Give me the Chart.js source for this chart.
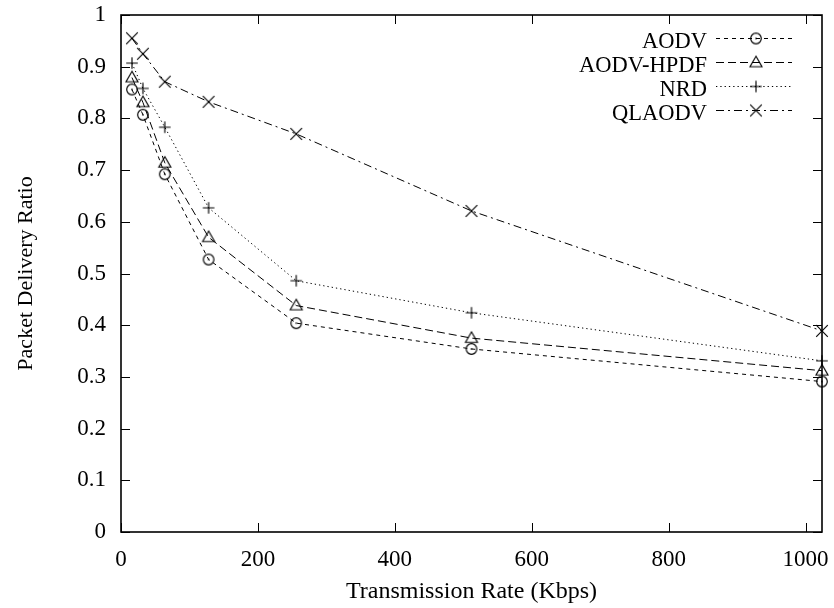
<!DOCTYPE html>
<html>
<head>
<meta charset="utf-8">
<title>Packet Delivery Ratio vs Transmission Rate</title>
<script src="https://cdn.jsdelivr.net/npm/chart.js@4/dist/chart.umd.min.js"></script>
<style>
  html, body { margin: 0; padding: 0; background: #fff; }
  #wrap { width: 834px; height: 608px; }
</style>
</head>
<body>
<div id="wrap"><canvas id="pdr" width="834" height="608"></canvas></div>
<script>
// Transmission rates (Kbps)
const rates = [16, 32, 64, 128, 256, 512, 1024];

// Packet delivery ratio per protocol
const aodv     = [0.856, 0.807, 0.692, 0.527, 0.404, 0.354, 0.291];
const aodvHpdf = [0.879, 0.831, 0.714, 0.570, 0.438, 0.375, 0.312];
const nrd      = [0.907, 0.858, 0.783, 0.627, 0.486, 0.424, 0.331];
const qlaodv   = [0.955, 0.925, 0.871, 0.832, 0.770, 0.621, 0.389];

// Axis tick values
const xTicks = [0, 200, 400, 600, 800, 1000];
const yTicks = [0, 0.1, 0.2, 0.3, 0.4, 0.5, 0.6, 0.7, 0.8, 0.9, 1];

const FONT = 'Liberation Serif, "Times New Roman", serif';

// Small canvases used as point symbols
function marker(kind) {
  const c = document.createElement('canvas');
  c.width = 16; c.height = 16;
  const g = c.getContext('2d');
  g.strokeStyle = '#000';
  g.fillStyle = '#000';
  g.lineWidth = 1.15;
  g.beginPath();
  if (kind === 'circle') {
    g.arc(8, 8, 5.3, 0, Math.PI * 2);
    g.stroke();
    g.fillRect(7.3, 7.3, 1.4, 1.4);
  } else if (kind === 'triangle') {
    g.moveTo(8, 1.8);
    g.lineTo(14, 12.2);
    g.lineTo(2, 12.2);
    g.closePath();
    g.stroke();
  } else if (kind === 'plus') {
    g.moveTo(2.2, 8); g.lineTo(13.8, 8);
    g.moveTo(8, 2.2); g.lineTo(8, 13.8);
    g.stroke();
  } else {
    g.moveTo(2.2, 2.2); g.lineTo(13.8, 13.8);
    g.moveTo(13.8, 2.2); g.lineTo(2.2, 13.8);
    g.stroke();
  }
  return c;
}

function series(label, values, dash, kind) {
  const sym = marker(kind);
  return {
    label: label,
    data: rates.map((r, i) => ({ x: r, y: values[i] })),
    borderColor: '#000',
    borderWidth: 1,
    borderDash: dash,
    pointStyle: sym,
    pointRadius: 6,
    pointHoverRadius: 6,
    fill: false,
    tension: 0,
    clip: false,
    symbol: sym
  };
}

// Box frame with inward tick marks on all four sides, plus the key
const framePlugin = {
  id: 'frame',
  afterDraw(chart) {
    const { ctx, chartArea: a } = chart;
    const xs = chart.scales.x, ys = chart.scales.y;
    const tl = 9;
    ctx.save();
    ctx.strokeStyle = '#000';
    ctx.lineWidth = 1;
    ctx.setLineDash([]);
    ctx.beginPath();
    xTicks.forEach(v => {
      const px = Math.round(xs.getPixelForValue(v)) + 0.5;
      ctx.moveTo(px, a.bottom); ctx.lineTo(px, a.bottom - tl);
      ctx.moveTo(px, a.top); ctx.lineTo(px, a.top + tl);
    });
    yTicks.forEach(v => {
      const py = Math.round(ys.getPixelForValue(v)) + 0.5;
      ctx.moveTo(a.left, py); ctx.lineTo(a.left + tl, py);
      ctx.moveTo(a.right, py); ctx.lineTo(a.right - tl, py);
    });
    ctx.stroke();
    ctx.lineWidth = 1.6;
    ctx.strokeRect(a.left, a.top, a.right - a.left, a.bottom - a.top);

    // key, top right
    ctx.font = '22.5px ' + FONT;
    ctx.fillStyle = '#000';
    ctx.textAlign = 'right';
    ctx.textBaseline = 'alphabetic';
    chart.data.datasets.forEach((ds, i) => {
      const base = 48 + 24 * i;
      const ly = base - 9.5;
      ctx.fillText(ds.label, 707, base);
      ctx.lineWidth = 1;
      ctx.setLineDash(ds.borderDash);
      ctx.beginPath();
      ctx.moveTo(716, ly);
      ctx.lineTo(792, ly);
      ctx.stroke();
      ctx.setLineDash([]);
      ctx.drawImage(ds.symbol, 756 - 8, ly - 8);
    });
    ctx.restore();
  }
};

new Chart(document.getElementById('pdr'), {
  type: 'line',
  data: {
    datasets: [
      series('AODV', aodv, [4, 4], 'circle'),
      series('AODV-HPDF', aodvHpdf, [8, 4], 'triangle'),
      series('NRD', nrd, [1.3, 3], 'plus'),
      series('QLAODV', qlaodv, [8, 4, 2, 4], 'cross')
    ]
  },
  options: {
    responsive: false,
    animation: false,
    events: [],
    layout: { autoPadding: false, padding: { top: 15, right: 12, left: 0, bottom: 0 } },
    plugins: {
      legend: { display: false },
      tooltip: { enabled: false }
    },
    scales: {
      x: {
        type: 'linear',
        min: 0,
        max: 1024,
        afterBuildTicks: s => { s.ticks = xTicks.map(v => ({ value: v })); },
        afterFit: s => { s.height = 76; s.paddingLeft = 0; s.paddingRight = 0; },
        grid: { display: false },
        border: { display: false },
        ticks: {
          color: '#000',
          padding: 6,
          maxRotation: 0,
          autoSkip: false,
          font: { family: FONT, size: 23 },
          callback: v => String(v)
        },
        title: {
          display: true,
          text: 'Transmission Rate (Kbps)',
          color: '#000',
          font: { family: FONT, size: 24 },
          padding: { top: 0, bottom: 2 }
        }
      },
      y: {
        type: 'linear',
        min: 0,
        max: 1,
        afterBuildTicks: s => { s.ticks = yTicks.map(v => ({ value: v })); },
        afterFit: s => { s.width = 121; s.paddingTop = 0; s.paddingBottom = 0; },
        grid: { display: false },
        border: { display: false },
        ticks: {
          color: '#000',
          padding: 7,
          autoSkip: false,
          font: { family: FONT, size: 23 },
          callback: v => String(Math.round(v * 10) / 10)
        },
        title: {
          display: true,
          text: 'Packet Delivery Ratio',
          color: '#000',
          font: { family: FONT, size: 22 },
          padding: { top: 13, bottom: 0 }
        }
      }
    }
  },
  plugins: [framePlugin]
});
</script>
</body>
</html>
